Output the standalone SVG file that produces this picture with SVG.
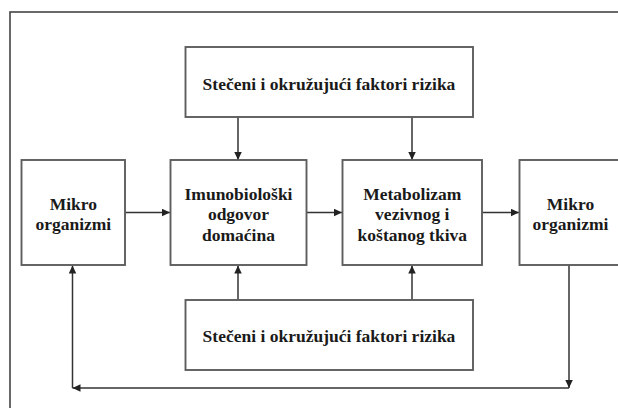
<svg xmlns="http://www.w3.org/2000/svg" width="618" height="408" viewBox="0 0 618 408">
<style>
.box{fill:#fff;stroke:#5e5e5e;stroke-width:1.9}
.frame{fill:none;stroke:#444;stroke-width:1.6}
.t{font-family:"Liberation Serif","Times New Roman",serif;font-weight:bold;font-size:17.5px;fill:#1a1a1a;text-anchor:middle}
.c{fill:none;stroke:#333;stroke-width:1.5}
</style>
<defs>
<marker id="ah" markerUnits="userSpaceOnUse" markerWidth="9" markerHeight="8" refX="8" refY="3.75" orient="auto">
<path d="M0,0 L8,3.75 L0,7.5 z" fill="#222"/>
</marker>
</defs>
<rect class="frame" x="10" y="12" width="620" height="410"/>
<g id="connectors">
<line class="c" x1="238" y1="117" x2="238" y2="160" marker-end="url(#ah)"/>
<line class="c" x1="412" y1="117" x2="412" y2="160" marker-end="url(#ah)"/>
<line class="c" x1="238" y1="300" x2="238" y2="265.5" marker-end="url(#ah)"/>
<line class="c" x1="412" y1="300" x2="412" y2="265.5" marker-end="url(#ah)"/>
<line class="c" x1="125" y1="212.5" x2="170" y2="212.5" marker-end="url(#ah)"/>
<line class="c" x1="306.5" y1="212.5" x2="342" y2="212.5" marker-end="url(#ah)"/>
<line class="c" x1="482" y1="212.5" x2="519" y2="212.5" marker-end="url(#ah)"/>
<line class="c" x1="569" y1="265" x2="569" y2="388" marker-end="url(#ah)"/>
<line class="c" x1="569" y1="388" x2="72.5" y2="388" marker-end="url(#ah)"/>
<line class="c" x1="72.5" y1="388" x2="72.5" y2="265.5" marker-end="url(#ah)"/>
</g>
<g id="top">
<rect class="box" x="185.5" y="47" width="287.5" height="70"/>
<text class="t" x="329" y="89.5">Stečeni i okružujući faktori rizika</text>
</g>
<g id="bottom">
<rect class="box" x="185.5" y="300" width="287.5" height="70"/>
<text class="t" x="329" y="342">Stečeni i okružujući faktori rizika</text>
</g>
<g id="mikro1">
<rect class="box" x="21.5" y="160" width="103.5" height="105"/>
<text class="t" x="73.3" y="209.5">Mikro</text>
<text class="t" x="73.3" y="230">organizmi</text>
</g>
<g id="imuno">
<rect class="box" x="170.5" y="160" width="136" height="105"/>
<text class="t" x="238.5" y="199.5">Imunobiološki</text>
<text class="t" x="238.5" y="220">odgovor</text>
<text class="t" x="238.5" y="240.5">domaćina</text>
</g>
<g id="metabolizam">
<rect class="box" x="342.5" y="160" width="139.5" height="105"/>
<text class="t" x="412.3" y="199.5">Metabolizam</text>
<text class="t" x="412.3" y="220">vezivnog i</text>
<text class="t" x="412.3" y="240.5">koštanog tkiva</text>
</g>
<g id="mikro2">
<rect class="box" x="519.5" y="160" width="102" height="105"/>
<text class="t" x="570.5" y="209.5">Mikro</text>
<text class="t" x="570.5" y="230">organizmi</text>
</g>
</svg>
